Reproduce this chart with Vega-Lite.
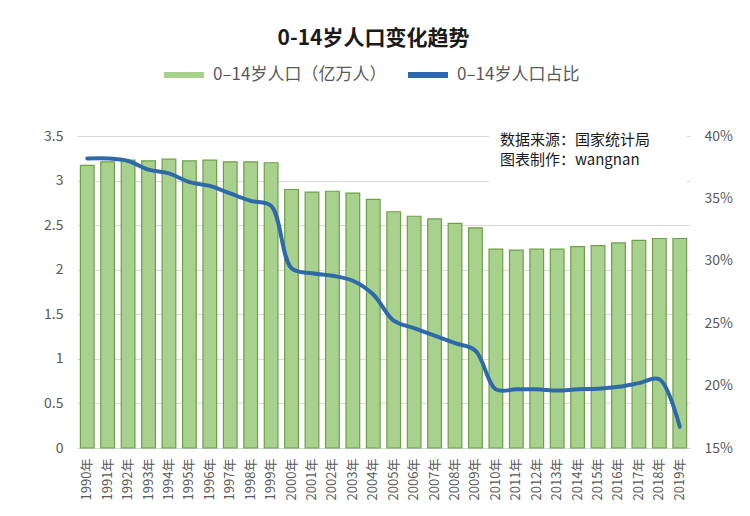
{
  "$schema": "https://vega.github.io/schema/vega-lite/v6.json",
  "width": 613,
  "height": 312,
  "autosize": {"type": "none"},
  "padding": {"left": 77, "top": 136, "right": 60, "bottom": 68},
  "background": "white",
  "config": {
    "font": "Noto Sans CJK SC",
    "view": {"stroke": null},
    "axis": {"labelColor": "#595959", "labelFont": "Noto Sans CJK SC", "domain": false, "ticks": false, "gridColor": "#d9d9d9", "gridWidth": 1}
  },
  "title": {
    "text": "0-14岁人口变化趋势",
    "fontSize": 21,
    "fontWeight": "bold",
    "color": "#1a1a1a",
    "anchor": "middle",
    "frame": "group",
    "dx": -10,
    "offset": 6
  },
  "datasets": {
    "main": [
      {"year": "1990年", "pop": 3.17, "ratio": 0.382},
      {"year": "1991年", "pop": 3.21, "ratio": 0.382},
      {"year": "1992年", "pop": 3.23, "ratio": 0.380},
      {"year": "1993年", "pop": 3.22, "ratio": 0.373},
      {"year": "1994年", "pop": 3.24, "ratio": 0.370},
      {"year": "1995年", "pop": 3.22, "ratio": 0.363},
      {"year": "1996年", "pop": 3.23, "ratio": 0.360},
      {"year": "1997年", "pop": 3.21, "ratio": 0.354},
      {"year": "1998年", "pop": 3.21, "ratio": 0.348},
      {"year": "1999年", "pop": 3.20, "ratio": 0.344},
      {"year": "2000年", "pop": 2.90, "ratio": 0.294},
      {"year": "2001年", "pop": 2.87, "ratio": 0.290},
      {"year": "2002年", "pop": 2.88, "ratio": 0.288},
      {"year": "2003年", "pop": 2.86, "ratio": 0.284},
      {"year": "2004年", "pop": 2.79, "ratio": 0.273},
      {"year": "2005年", "pop": 2.65, "ratio": 0.252},
      {"year": "2006年", "pop": 2.60, "ratio": 0.246},
      {"year": "2007年", "pop": 2.57, "ratio": 0.240},
      {"year": "2008年", "pop": 2.52, "ratio": 0.234},
      {"year": "2009年", "pop": 2.47, "ratio": 0.228},
      {"year": "2010年", "pop": 2.23, "ratio": 0.197},
      {"year": "2011年", "pop": 2.22, "ratio": 0.197},
      {"year": "2012年", "pop": 2.23, "ratio": 0.197},
      {"year": "2013年", "pop": 2.23, "ratio": 0.196},
      {"year": "2014年", "pop": 2.26, "ratio": 0.197},
      {"year": "2015年", "pop": 2.27, "ratio": 0.1975},
      {"year": "2016年", "pop": 2.30, "ratio": 0.199},
      {"year": "2017年", "pop": 2.33, "ratio": 0.202},
      {"year": "2018年", "pop": 2.35, "ratio": 0.205},
      {"year": "2019年", "pop": 2.35, "ratio": 0.167}
    ],
    "note": [
      {"year": "2010年", "pop": 3.46, "text": "数据来源：国家统计局"},
      {"year": "2010年", "pop": 3.235, "text": "图表制作：wangnan"}
    ],
    "box": [
      {"x1": "2010年", "x2": "2019年", "y1": 2.78, "y2": 3.5}
    ]
  },
  "encoding": {
    "x": {
      "field": "year", "type": "ordinal", "sort": null,
      "scale": {"paddingInner": 0.33, "paddingOuter": 0.165},
      "axis": {"title": null, "labelAngle": -90, "labelFontSize": 13, "labelPadding": 10, "grid": false, "domain": true, "domainColor": "#d9d9d9"}
    }
  },
  "layer": [
    {
      "data": {"name": "main"},
      "mark": {"type": "bar", "fill": "#a9d18e", "stroke": "#6e9e48", "strokeWidth": 1.2},
      "encoding": {
        "y": {
          "field": "pop", "type": "quantitative",
          "scale": {"domain": [0, 3.5], "nice": false},
          "axis": {"title": null, "values": [0, 0.5, 1, 1.5, 2, 2.5, 3, 3.5], "format": "~g", "labelFontSize": 14, "labelPadding": 14, "grid": true}
        },
        "color": {
          "datum": "0–14岁人口（亿万人）",
          "scale": {"domain": ["0–14岁人口（亿万人）", "0–14岁人口占比"], "range": ["#a9d18e", "#2e6aa9"]},
          "legend": {
            "title": null,
            "orient": "none",
            "direction": "horizontal",
            "legendX": 87,
            "legendY": -81,
            "padding": 0,
            "symbolType": "M-1,-0.15H1V0.15H-1Z",
            "symbolSize": 1600,
            "symbolStrokeWidth": 0,
            "labelFontSize": 17,
            "labelColor": "#595959",
            "labelOffset": 9,
            "labelLimit": 400,
            "columnPadding": 21
          }
        }
      }
    },
    {
      "data": {"name": "box"},
      "mark": {"type": "rect", "fill": "white"},
      "encoding": {
        "x": {"field": "x1", "type": "ordinal", "bandPosition": 0},
        "x2": {"field": "x2", "bandPosition": 1},
        "y": {"field": "y1", "type": "quantitative", "scale": {"domain": [0, 3.5], "nice": false}, "axis": null},
        "y2": {"field": "y2"}
      }
    },
    {
      "data": {"name": "note"},
      "mark": {"type": "text", "align": "left", "baseline": "middle", "fontSize": 15, "color": "#1a1a1a", "dx": 4},
      "encoding": {
        "y": {"field": "pop", "type": "quantitative", "scale": {"domain": [0, 3.5], "nice": false}, "axis": null},
        "text": {"field": "text"}
      }
    },
    {
      "data": {"name": "main"},
      "mark": {"type": "line", "interpolate": "catmull-rom", "strokeWidth": 4, "strokeCap": "round", "color": "#2e6aa9"},
      "encoding": {
        "y": {
          "field": "ratio", "type": "quantitative",
          "scale": {"domain": [0.15, 0.40], "nice": false},
          "axis": {"title": null, "orient": "right", "values": [0.15, 0.2, 0.25, 0.3, 0.35, 0.4], "format": ".0%", "labelFontSize": 14, "labelPadding": 14, "grid": false}
        },
        "color": {"datum": "0–14岁人口占比"}
      }
    }
  ],
  "resolve": {"scale": {"y": "independent"}}
}
